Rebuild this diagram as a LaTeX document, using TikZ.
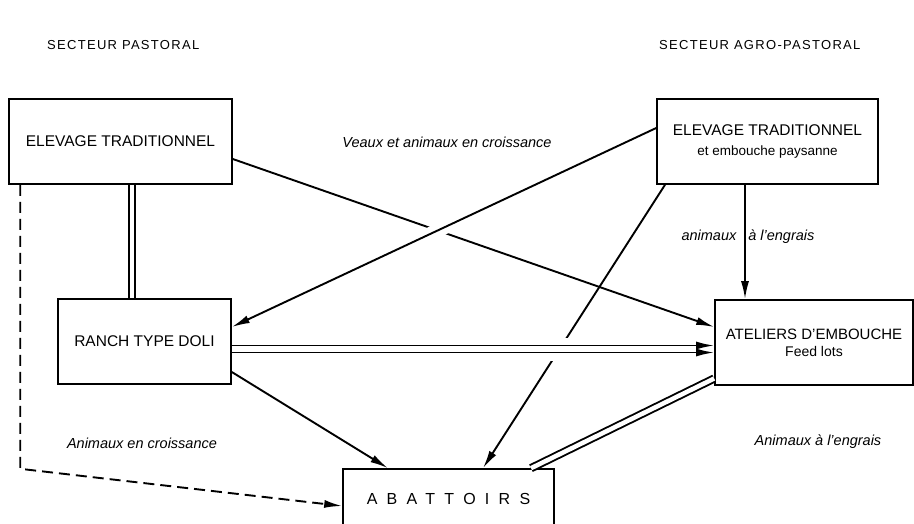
\documentclass[tikz,border=0pt]{standalone}
\usepackage{fontspec}
\setmainfont{Liberation Sans}
\newfontfamily\widefont[LetterSpace=58]{Liberation Sans}
\newfontfamily\headfont[LetterSpace=10]{Liberation Sans}
\usetikzlibrary{arrows.meta}

\begin{document}
\begin{tikzpicture}[x=1pt, y=-1pt,
    % Styles
    sector/.style={
        anchor=west,
        inner sep=0pt,
        font=\headfont\fontsize{13}{15}\selectfont
    },
    unit/.style={
        rectangle,
        draw,
        line width=1.6pt,
        minimum height=85pt,
        inner sep=0pt,
        align=center,
        font=\fontsize{15.5}{20}\selectfont
    },
    flowlabel/.style={
        inner sep=0pt,
        font=\fontsize{14.5}{17}\selectfont\itshape
    },
    flow/.style={line width=1.9pt, -{Latex[length=18pt, width=8pt]}},
    link/.style={line width=1.9pt, double, double distance=4.5pt},
    bridge/.style={draw=white, line width=14pt, shorten >=18pt, shorten <=18pt}
]
\useasboundingbox (0,0) rectangle (914,523);
\clip (0,0) rectangle (914,523);

% Sector headings
\node[sector] (pastoral) at (47,45) {SECTEUR PASTORAL};
\node[sector] (agropastoral) at (659,45) {SECTEUR AGRO-PASTORAL};

% Units
\node[unit, minimum width=223pt] (tradpast) at (120.5,141.5) {ELEVAGE TRADITIONNEL};
\node[unit, minimum width=221pt] (tradagro) at (767.5,141.5) {
    ELEVAGE TRADITIONNEL\\
    {\fontsize{13.5}{16}\selectfont et embouche paysanne}
};
\node[unit, minimum width=173pt] (ranch) at (144.5,341.5) {RANCH TYPE DOLI};
\node[unit, minimum width=198pt, font=\fontsize{15}{17}\selectfont] (ateliers) at (814,342.5) {
    ATELIERS D'EMBOUCHE\\
    {\fontsize{14}{17}\selectfont Feed lots}
};
\node[unit, minimum width=211pt, minimum height=60pt,
      font=\widefont\fontsize{16}{19}\selectfont] (abattoirs) at (448.5,499) {ABATTOIRS};

% Pastoral side
\draw[link] ([xshift=11.5pt]tradpast.south) -- ([xshift=11.5pt]tradpast.south |- ranch.north);
\draw[flow, dash pattern=on 11pt off 6pt] ([xshift=12pt]tradpast.south west) -- ++(0,284)
    -- ([yshift=-7pt]abattoirs.west);
\draw[flow] ([yshift=-17.5pt]tradpast.east) -- ([yshift=15.5pt]ateliers.west);

% Agro-pastoral side
\draw[bridge] ([yshift=13.5pt]tradagro.west) -- ([yshift=14.5pt]ranch.east);
\draw[flow] ([yshift=13.5pt]tradagro.west) -- ([yshift=14.5pt]ranch.east);
\draw[flow] ([xshift=-102.5pt]tradagro.south) -- ([xshift=34.5pt]abattoirs.north);
\draw[flow] ([xshift=-22.5pt]tradagro.south) -- ([xshift=-22.5pt]tradagro.south |- ateliers.north);

% Ranch and feed lots
\draw[bridge, line width=23pt] ([yshift=-7.5pt]ranch.east) -- ([yshift=-7.5pt]ranch.east -| ateliers.west);
\draw[flow] ([yshift=-4pt]ranch.east) -- ([yshift=-4pt]ranch.east -| ateliers.west);
\draw[flow] ([yshift=-11pt]ranch.east) -- ([yshift=-11pt]ranch.east -| ateliers.west);
\draw[flow] ([yshift=-30.5pt]ranch.east) -- ([xshift=-60.5pt]abattoirs.north);
\draw[link] ([yshift=-36pt]ateliers.west) -- ([xshift=82.5pt]abattoirs.north);

% Flow labels
\node[flowlabel] (lblveaux) at (447,142) {Veaux et animaux en croissance};
\node[flowlabel] (lblengrais) at (748,237) {animaux\hspace{12pt}à l'engrais};
\node[flowlabel] (lblcroiss) at (142,443) {Animaux en croissance};
\node[flowlabel] (lblfinish) at (818,442) {Animaux à l'engrais};

\end{tikzpicture}
\end{document}
